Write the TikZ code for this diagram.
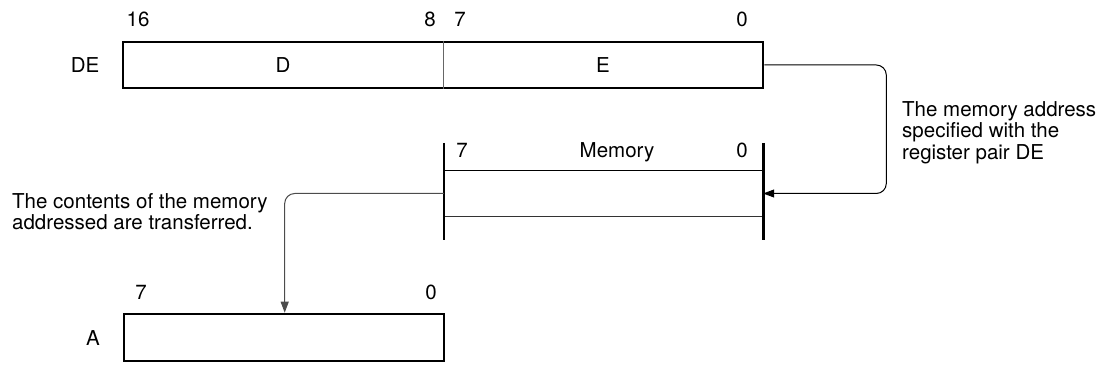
\documentclass[tikz,border=0pt]{standalone}
\usepackage{fontspec}
\setmainfont{TeX Gyre Heros}
\usetikzlibrary{arrows.meta,positioning}

\begin{document}
\begin{tikzpicture}[
  x=1pt, y=-1pt,
  font=\fontsize{20.5}{21.5}\selectfont,
  reg/.style={draw, line width=2.6pt, minimum height=46pt, inner sep=0pt},
  bit/.style={anchor=base, inner sep=0pt},
  note/.style={anchor=north west, align=left, inner sep=0pt,
               execute at begin node={\setlength{\baselineskip}{21.5pt}}},
  flow/.style={-{Triangle[length=11pt, width=8pt]}, line width=1pt, rounded corners=10pt}
]
\useasboundingbox (0,0) rectangle (1108,371);
% register pair DE
\node[reg, minimum width=640pt] (de) at (443,65) {};
\draw[black!60, line width=1pt] (de.north) -- (de.south);
\node[bit] (deD) at (283,73) {D};
\node[bit] (deE) at (603,73) {E};
\node[bit] (deName) at (85,73) {DE};
\node[bit] (de16) at (138,27) {16};
\node[bit] (de8) at (430,27) {8};
\node[bit] (de7) at (460,27) {7};
\node[bit] (de0) at (742,27) {0};
% memory
\node[minimum width=319pt, minimum height=45pt, inner sep=0pt] (cell) at (603.5,193.5) {};
\draw[line width=1.3pt] (cell.north west) -- (cell.north east);
\draw[line width=1.3pt, black!80] (cell.south west) -- (cell.south east);
\draw[line width=2.6pt] ([yshift=28pt]cell.north west) -- ([yshift=-24pt]cell.south west);
\draw[line width=2.6pt] ([yshift=28pt]cell.north east) -- ([yshift=-24pt]cell.south east);
\node[bit] (mem7) at (462,158) {7};
\node[bit] (memName) at (617,158) {Memory};
\node[bit] (mem0) at (742,158) {0};
% register A
\node[reg, minimum width=320pt, minimum height=47pt] (ra) at (284,337.5) {};
\node[bit] (raName) at (93,345) {A};
\node[bit] (ra7) at (141,300) {7};
\node[bit] (ra0) at (431,300) {0};
% notes
\node[note] (addrNote) at (902,101) {The memory address\\specified with the\\register pair DE};
\node[note] (xferNote) at (12,193) {The contents of the memory\\addressed are transferred.};
% transfers
\draw[flow] (de.east) -- ++(122,0) |- (cell.east);
\draw[flow, black!70] (cell.west) -| ([xshift=162pt]ra.north west);
\end{tikzpicture}
\end{document}
